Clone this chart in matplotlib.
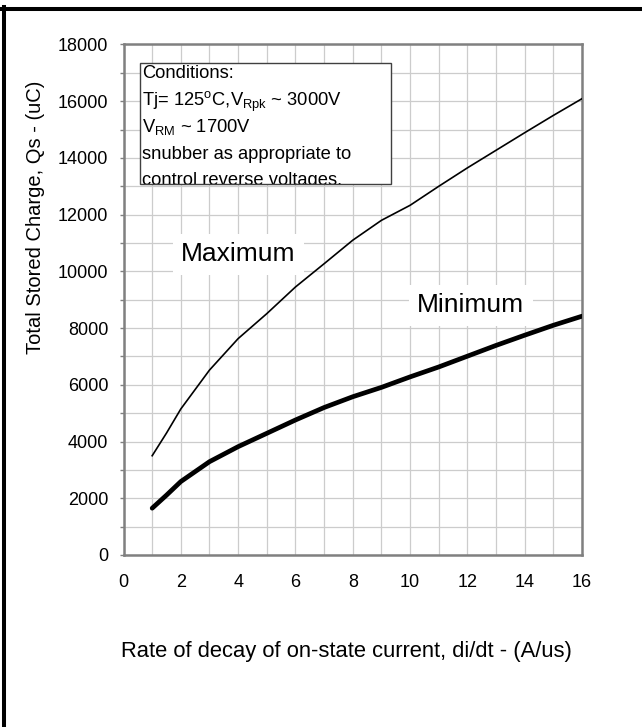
import matplotlib
matplotlib.use("Agg")
import matplotlib.pyplot as plt
from matplotlib.patches import Rectangle
from matplotlib.lines import Line2D
import numpy as np

plt.rcParams['font.family'] = ['Liberation Sans', 'DejaVu Sans']
plt.rcParams['mathtext.fontset'] = 'custom'
plt.rcParams['mathtext.rm'] = 'Liberation Sans'

# rate of decay di/dt (A/us)
didt = [1, 1.5, 2, 3, 4, 5, 6, 7, 8, 9, 10, 11, 12, 13, 14, 15, 16]
# stored charge Qs (uC)
qs_max = [3500, 4300, 5150, 6520, 7630, 8510, 9450, 10270, 11100, 11800,
          12330, 13000, 13650, 14270, 14890, 15500, 16090]
qs_min = [1650, 2110, 2590, 3290, 3820, 4290, 4760, 5200, 5580, 5910,
          6280, 6630, 7010, 7390, 7750, 8100, 8420]

x_ticks = [0, 2, 4, 6, 8, 10, 12, 14, 16]
y_ticks = [0, 2000, 4000, 6000, 8000, 10000, 12000, 14000, 16000, 18000]

cond_lines = [
    "Conditions:",
    "Tj= 125$^{\\rm o}$C,V$_{\\rm Rpk}$ ~ 3000V",
    "V$_{\\rm RM}$ ~ 1700V",
    "snubber as appropriate to",
    "control reverse voltages.",
]

fig = plt.figure(figsize=(6.42, 7.27), dpi=100)
ax = fig.add_axes([0.1924, 0.2366, 0.7142, 0.7022])

ax.plot(didt, qs_max, color="black", lw=1.2, zorder=3)
ax.plot(didt, qs_min, color="black", lw=3.4, solid_capstyle="round",
        solid_joinstyle="round", zorder=3)

ax.set_xlim(0, 16)
ax.set_ylim(0, 18000)
ax.set_xticks(x_ticks)
ax.set_yticks(y_ticks)
ax.set_xticks(np.arange(0, 17, 1), minor=True)
ax.set_yticks(np.arange(0, 18001, 1000), minor=True)
ax.grid(True, which="both", color="#cccccc", lw=0.9, zorder=0)
ax.set_axisbelow(True)
ax.tick_params(axis="x", which="both", length=0, labelsize=13, pad=14)
ax.tick_params(axis="y", which="both", length=3, color="#808080", width=1, labelsize=13, pad=8)
for s in ax.spines.values():
    s.set_color("#808080")
    s.set_linewidth(1.8)

# labels on curves
ax.text(4.01, 10600, "Maximum", fontsize=19, ha="center", va="center", zorder=4,
        bbox=dict(facecolor="white", edgecolor="none", pad=6))
ax.text(12.12, 8806, "Minimum", fontsize=19, ha="center", va="center", zorder=4,
        bbox=dict(facecolor="white", edgecolor="none", pad=6))

# conditions box
box = Rectangle((0.56, 13068), 8.78, 4297, facecolor="white", edgecolor="none", zorder=4)
ax.add_patch(box)
ys = [16967, 15992, 15086, 14125, 13200]
for t, y in zip(cond_lines, ys):
    txt = ax.text(0.66, y, t, fontsize=13.2, ha="left", va="center", zorder=5)
    txt.set_clip_on(True)
    txt.set_clip_path(box)
ax.add_patch(Rectangle((0.56, 13068), 8.78, 4297, facecolor="none",
                       edgecolor="#404040", lw=1.0, zorder=6))

fig.text(0.055, 0.7015, "Total Stored Charge, Qs - (uC)", fontsize=14.5,
         rotation=90, ha="center", va="center")
fig.text(0.540, 0.1032, "Rate of decay of on-state current, di/dt - (A/us)",
         fontsize=15.8, ha="center", va="center")

# outer frame (left and top only visible)
fig.add_artist(Line2D([4 / 642, 4 / 642], [0, 1 - 7 / 727], color="black", lw=2.9,
                      transform=fig.transFigure))
fig.add_artist(Line2D([2 / 642, 1], [1 - 9 / 727, 1 - 9 / 727], color="black", lw=2.9,
                      transform=fig.transFigure))

fig.savefig("out.png", dpi=100)
